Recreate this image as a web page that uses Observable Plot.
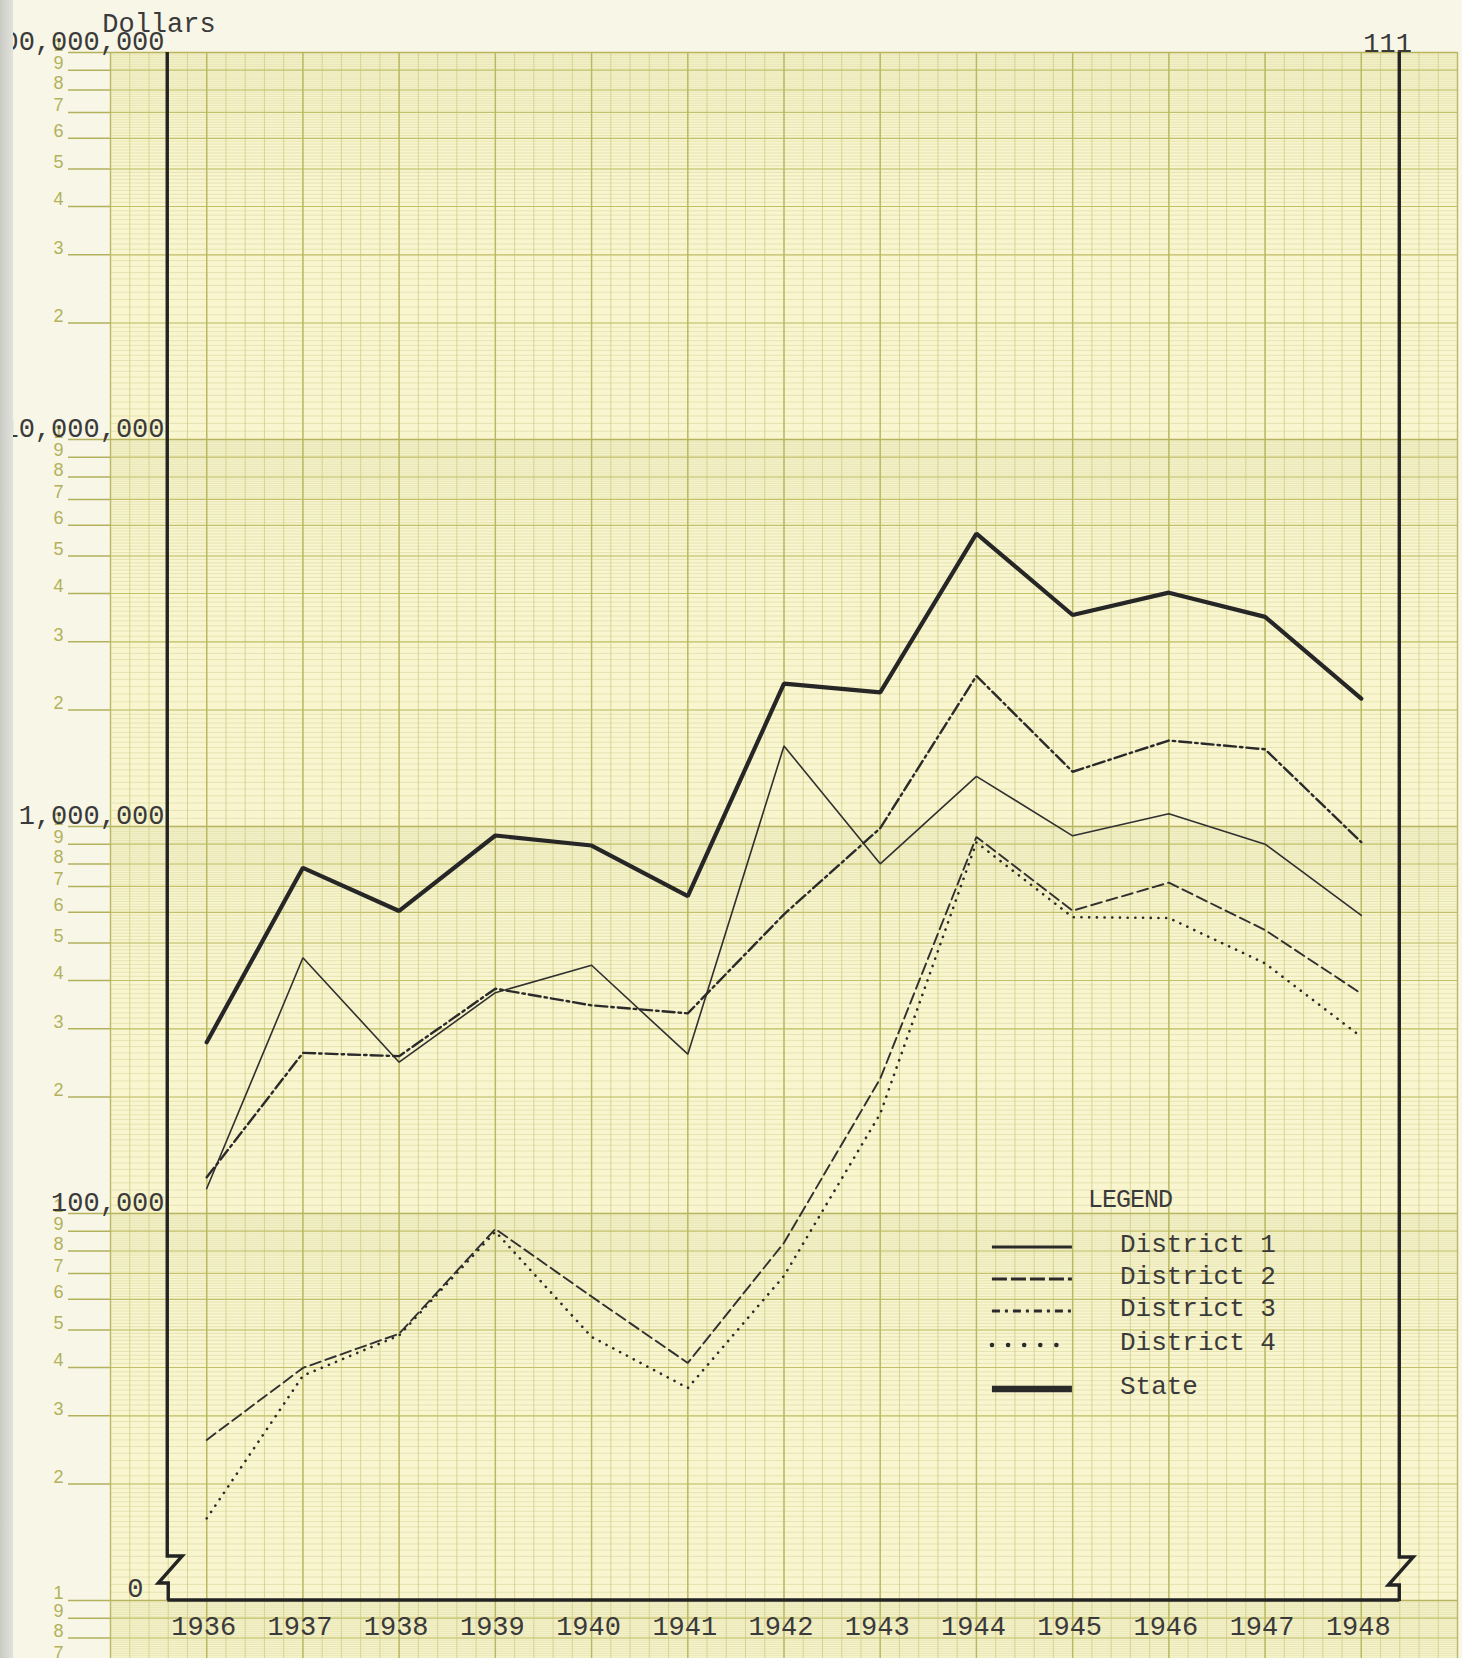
<!DOCTYPE html>
<html>
<head>
<meta charset="utf-8">
<script src="https://cdn.jsdelivr.net/npm/d3@7"></script>
<script src="https://cdn.jsdelivr.net/npm/@observablehq/plot@0.6"></script>
<style>
html, body { margin: 0; padding: 0; background: #f8f6e6; overflow: hidden; }
#page { position: relative; width: 1462px; height: 1658px; overflow: hidden; background: #f8f6e6; }
#paper { position: absolute; left: 110px; top: 52px; width: 1348px; height: 1606px; background: #f8f5cf; }
#chart { position: absolute; left: 0; top: 0; }
#strip { position: absolute; left: 0; top: 0; width: 13px; height: 1658px; background: linear-gradient(to right, #cbcbc6, #e2e2dc); }
</style>
</head>
<body>
<div id="page">
  <div id="paper"></div>
  <div id="chart"></div>
  <div id="strip"></div>
</div>
<script>
// ---------------- data ----------------
const years = [1936, 1937, 1938, 1939, 1940, 1941, 1942, 1943, 1944, 1945, 1946, 1947, 1948];
const state     = [277000, 782000, 605000, 948000, 893000, 661000, 2340000, 2220000, 5710000, 3520000, 4020000, 3480000, 2140000];
const district1 = [116000, 458000, 246000, 372000, 438000, 258000, 1615000, 801000, 1348000, 946000, 1079000, 900000, 589000];
const district2 = [26000, 39900, 48900, 91200, 61000, 41100, 84000, 223000, 940000, 606000, 716000, 540000, 370000];
const district3 = [124000, 260000, 255000, 381000, 345000, 329000, 593000, 990000, 2450000, 1385000, 1668000, 1583000, 911000];
const district4 = [16300, 38100, 48400, 89800, 48000, 35400, 69000, 181000, 910000, 583000, 580000, 443000, 286000];
const seriesNames = ["District 1", "District 2", "District 3", "District 4", "State"];
const seriesValues = [district1, district2, district3, district4, state];
const decadeTicks = [100000, 1000000, 10000000, 100000000];
const decadeLabels = ["100,000", "1,000,000", "10,000,000", "100,000,000"];
const zeroLabel = [{ value: 10000, text: "0" }];
const yTitle = "Dollars";
const pageNumber = "111";
const legendTitle = "LEGEND";

const rows = seriesNames.flatMap((name, i) =>
  years.map((year, j) => ({ series: name, year, value: seriesValues[i][j] })));

// ---------------- styles ----------------
const tw = "'Liberation Mono', 'DejaVu Sans Mono', monospace";
const ink = "#3a3a3a";
const olive = "#b3b15c";

const lineStyles = {
  "District 1": { stroke: "#303030", strokeWidth: 1.6 },
  "District 2": { stroke: "#303030", strokeWidth: 1.9, strokeDasharray: "11,5" },
  "District 3": { stroke: "#2a2a2a", strokeWidth: 2.4, strokeDasharray: "12,4,2.5,4" },
  "District 4": { stroke: "#2a2a2a", strokeWidth: 2.6, strokeDasharray: "0.1,7.6", strokeLinecap: "round" },
  "State":      { stroke: "#262626", strokeWidth: 4.2 }
};
const legendStyles = {
  "District 1": { w: 3, dash: null, cap: "butt" },
  "District 2": { w: 3, dash: "15,4", cap: "butt" },
  "District 3": { w: 3, dash: "8,5,3,5", cap: "butt" },
  "District 4": { w: 4.5, dash: "0.1,16", cap: "round" },
  "State":      { w: 6.5, dash: null, cap: "butt" }
};

// ---------------- semilog paper grid ----------------
const paperMin = 6500;
const fineVals = [];
for (let d = 3; d <= 7; d++) {
  const p = 10 ** d;
  for (let i = 20; i < 40; i++) fineVals.push(i * 5 * p / 100);
  for (let i = 20; i < 100; i++) fineVals.push(i * p / 10);
}
const fine = fineVals.filter(v => v >= paperMin && v <= 1e8);
const intVals = [];
for (let d = 3; d <= 7; d++) for (let k = 1; k <= 9; k++) { const v = k * 10 ** d; if (v >= paperMin) intVals.push(v); }
intVals.push(1e8);
const decadeLines = [1e4, 1e5, 1e6, 1e7, 1e8];
const xMinor = d3.range(0, 71).map(i => 1935 + i / 5);
const xMajor = d3.range(1935, 1950);
const leadDigit = d => String(Math.round(d / 10 ** Math.floor(Math.log10(d) + 1e-9)));

const plot = Plot.plot({
  width: 1462,
  height: 1658,
  marginLeft: 110,
  marginRight: 5,
  marginTop: 52,
  marginBottom: 58,
  style: { background: "transparent", overflow: "visible", fontFamily: tw },
  x: { type: "linear", domain: [1935, 1949], label: null },
  y: { type: "log", domain: [1e4, 1e8], label: null },
  marks: [
    Plot.ruleY(fine, { stroke: "#d9d79e", strokeWidth: 0.55 }),
    Plot.ruleX(xMinor, { y1: 1e8, y2: 6000, stroke: "#cfcd88", strokeWidth: 0.8 }),
    Plot.ruleY(intVals, { stroke: "#c2c06a", strokeWidth: 1.2 }),
    Plot.ruleX(xMajor, { y1: 1e8, y2: 6000, stroke: "#bab862", strokeWidth: 1.4 }),
    Plot.ruleY(decadeLines, { stroke: "#b6b45e", strokeWidth: 1.5 }),
    Plot.axisY(intVals, { anchor: "left", tickSize: 42, tickPadding: 0, tickFormat: () => "", stroke: olive, strokeWidth: 1.5, label: null }),
    Plot.text(intVals, { y: d => d, frameAnchor: "left", dx: -47, dy: -7, textAnchor: "end", text: leadDigit, fill: olive, fontSize: 18, fontFamily: "'Liberation Sans', sans-serif" }),
    Plot.text(decadeTicks, { y: d => d, frameAnchor: "left", dx: 54, dy: -11, textAnchor: "end", text: (d, i) => decadeLabels[i], fill: ink, fontSize: 27, fontFamily: tw }),
    Plot.text(zeroLabel, { y: "value", text: "text", frameAnchor: "left", dx: 33, dy: -12, textAnchor: "end", fill: ink, fontSize: 27, fontFamily: tw }),
    Plot.axisX(years, { anchor: "bottom", tickSize: 0, tickPadding: 15, tickFormat: d => String(d), fill: ink, fontSize: 27, fontFamily: tw, dx: -3, label: null }),
    ...seriesNames.map(name =>
      Plot.line(rows.filter(r => r.series === name), { x: "year", y: "value", strokeLinejoin: "miter", ...lineStyles[name] }))
  ]
});
document.getElementById("chart").appendChild(plot);

// ---------------- frame with axis breaks, titles, legend ----------------
const svg = d3.select(plot);
const X = plot.scale("x"), Y = plot.scale("y");
const step = X.apply(1937) - X.apply(1936);
const leftX = X.apply(1936) - 0.405 * step;
const rightX = X.apply(1948) + 0.4 * step;
const topY = Y.apply(1e8);
const baseY = Y.apply(1e4);

const leftPath = `M${leftX},${topY} V${baseY - 44} H${leftX + 15} L${leftX - 9},${baseY - 17} H${leftX + 1} V${baseY}`;
const basePath = `M${leftX},${baseY} H${rightX}`;
const rightPath = `M${rightX},${topY} V${baseY - 43} H${rightX + 14} L${rightX - 11},${baseY - 15} H${rightX} V${baseY + 1}`;
[leftPath, basePath, rightPath].forEach(d =>
  svg.append("path").attr("d", d).attr("fill", "none").attr("stroke", "#232323")
    .attr("stroke-width", 3.4).attr("stroke-linejoin", "miter"));

svg.append("text").text(yTitle).attr("x", leftX - 65).attr("y", topY - 20).attr("text-anchor", "start")
  .attr("fill", ink).attr("font-family", tw).attr("font-size", 27);
svg.append("text").text(pageNumber).attr("x", rightX - 36).attr("y", topY).attr("text-anchor", "start")
  .attr("fill", ink).attr("font-family", tw).attr("font-size", 27);

// legend
const lgX = X.apply(1944) + 16;       // left end of the line samples
const lgTop = Y.apply(100000) - 6;    // baseline of LEGEND title
svg.append("text").text(legendTitle).attr("x", lgX + 96).attr("y", lgTop).attr("text-anchor", "start")
  .attr("fill", ink).attr("font-family", tw).attr("font-size", 25).attr("letter-spacing", -1);
const rowOffsets = [45, 77, 109, 143, 187];
seriesNames.forEach((name, i) => {
  const by = lgTop + rowOffsets[i];
  const st = legendStyles[name];
  const ln = svg.append("line").attr("x1", lgX).attr("x2", lgX + 80).attr("y1", by - 5).attr("y2", by - 5)
    .attr("stroke", "#2a2a2a").attr("stroke-width", st.w).attr("stroke-linecap", st.cap);
  if (st.dash) ln.attr("stroke-dasharray", st.dash);
  svg.append("text").text(name).attr("x", lgX + 128).attr("y", by).attr("text-anchor", "start")
    .attr("fill", ink).attr("font-family", tw).attr("font-size", 26);
});
</script>
</body>
</html>
